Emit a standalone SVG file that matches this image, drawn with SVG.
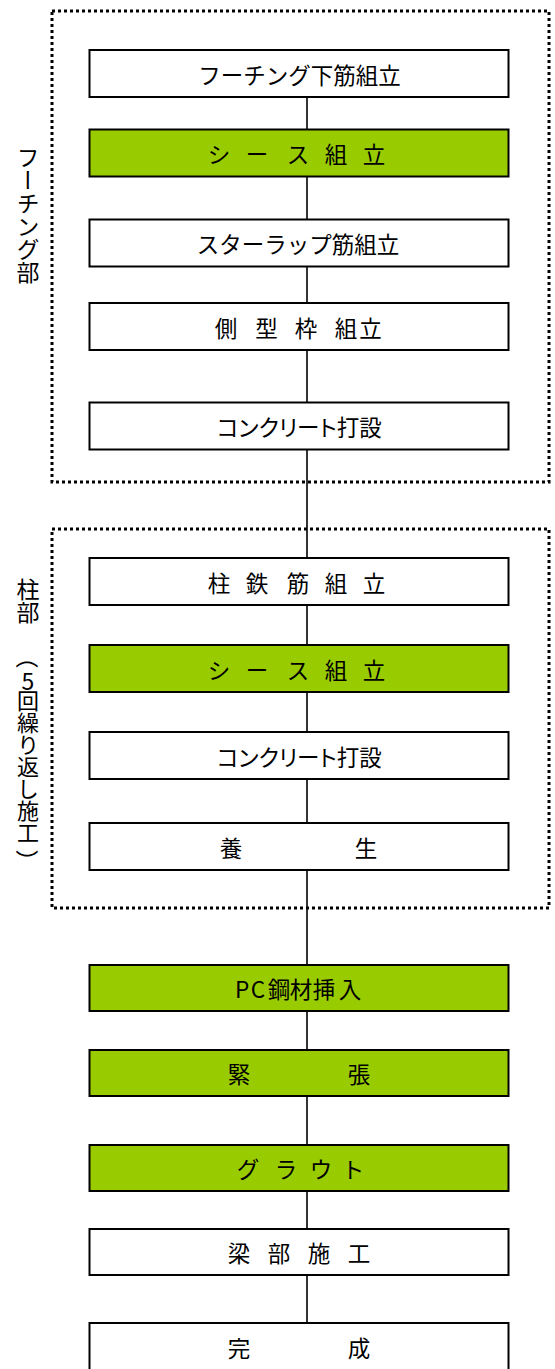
<svg xmlns="http://www.w3.org/2000/svg" width="555" height="1369" viewBox="0 0 555 1369">
<style>
.box{stroke:#000;stroke-width:2}
.w{fill:#fff}
.g{fill:#99cc00}
.t{font-family:"Noto Sans CJK JP","DejaVu Sans",sans-serif;font-size:22.5px;fill:#000;text-anchor:middle;dominant-baseline:central}
.sec{fill:none;stroke:#000;stroke-width:3;stroke-dasharray:3 3}
.conn{stroke:#000;stroke-width:1.6;fill:none}
.side{font-family:"Noto Sans CJK JP","DejaVu Sans",sans-serif;font-size:23px;fill:#000;writing-mode:vertical-rl}
.num{font-family:"Noto Sans CJK JP","DejaVu Sans",sans-serif;font-size:23px;fill:#000;text-anchor:middle;dominant-baseline:central}
</style>
<rect width="555" height="1369" fill="#fff"/>
<g id="sections">
<rect class="sec" x="52" y="11" width="497" height="471"/>
<rect class="sec" x="52" y="529" width="497" height="379"/>
</g>
<g id="connectors">
<path class="conn" d="M307 97V1323"/>
</g>
<g id="n1"><rect class="box w" x="89.5" y="50" width="419" height="47"/><text class="t" x="299.5" y="73.5">フーチング下筋組立</text></g>
<g id="n2"><rect class="box g" x="89.5" y="129.5" width="419" height="47"/><text class="t" x="219 257 298 336 374" y="153">シース組立</text></g>
<g id="n3"><rect class="box w" x="89.5" y="219.5" width="419" height="47"/><text class="t" x="298" y="243">スターラップ筋組立</text></g>
<g id="n4"><rect class="box w" x="89.5" y="303" width="419" height="47"/><text class="t" x="226 266.5 306 346 370.5" y="326.5">側型枠組立</text></g>
<g id="n5"><rect class="box w" x="89.5" y="402.5" width="419" height="47"/><text class="t" x="299.5" y="426" style="font-feature-settings:'palt'">コンクリート打設</text></g>
<g id="n6"><rect class="box w" x="89.5" y="558" width="419" height="47"/><text class="t" x="219 257 298 336 374" y="581.5">柱鉄筋組立</text></g>
<g id="n7"><rect class="box g" x="89.5" y="645" width="419" height="47"/><text class="t" x="219 257 298 336 374" y="668.5">シース組立</text></g>
<g id="n8"><rect class="box w" x="89.5" y="732" width="419" height="47"/><text class="t" x="299.5" y="755.5" style="font-feature-settings:'palt'">コンクリート打設</text></g>
<g id="n9"><rect class="box w" x="89.5" y="823" width="419" height="47"/><text class="t" x="231 366" y="846.5">養生</text></g>
<g id="n10"><rect class="box g" x="89.5" y="965" width="419" height="46"/><text class="t" x="242 258 279 301 324 350" y="988">PC鋼材挿入</text></g>
<g id="n11"><rect class="box g" x="89.5" y="1050" width="419" height="46"/><text class="t" x="239 359" y="1073">緊張</text></g>
<g id="n12"><rect class="box g" x="89.5" y="1145" width="419" height="46"/><text class="t" x="248 286 321 353" y="1168">グラウト</text></g>
<g id="n13"><rect class="box w" x="89.5" y="1229" width="419" height="46"/><text class="t" x="239 279 319 359" y="1252">梁部施工</text></g>
<g id="n14"><rect class="box w" x="89.5" y="1323" width="419" height="47"/><text class="t" x="239 359" y="1346.5">完成</text></g>
<g id="labels">
<text class="side" x="28" y="146">フーチング部</text>
<text class="side" x="28" y="578">柱部</text>
<text class="num" transform="translate(28,657) rotate(90)">（</text>
<text class="num" x="28" y="680">5</text>
<text class="side" x="28" y="690" style="font-size:22px">回繰り返し施工</text>
<text class="num" transform="translate(28,861) rotate(90)">）</text>
</g>
</svg>
